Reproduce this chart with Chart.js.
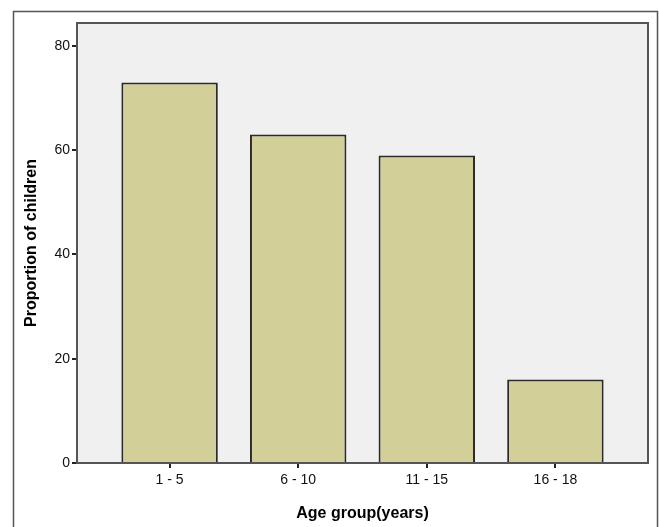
<!DOCTYPE html>
<html>
<head>
<meta charset="utf-8">
<script src="https://cdn.jsdelivr.net/npm/chart.js"></script>
<style>
  html, body { margin: 0; padding: 0; background: #fff; }
  #wrap { width: 659px; height: 527px; position: relative; }
</style>
</head>
<body>
<div id="wrap"><canvas id="chart"></canvas></div>
<script>
// Chart data
var ageGroups = ['1 - 5', '6 - 10', '11 - 15', '16 - 18'];
var proportions = [73, 63, 59, 16];
var yTicks = [0, 20, 40, 60, 80];

// Plot background, plot frame and outer frame
var framePlugin = {
    id: 'frames',
    beforeDraw: function(chart) {
        var ctx = chart.ctx;
        var a = chart.chartArea;
        ctx.save();
        ctx.fillStyle = '#f0f0f0';
        ctx.fillRect(a.left, a.top, a.right - a.left, a.bottom - a.top);
        ctx.strokeStyle = '#555';
        ctx.lineWidth = 1.5;
        ctx.strokeRect(13.5, 11.5, 644, 530);
        ctx.restore();
    },
    afterDraw: function(chart) {
        var ctx = chart.ctx;
        var a = chart.chartArea;
        ctx.save();
        ctx.strokeStyle = '#555';
        ctx.lineWidth = 2;
        ctx.strokeRect(a.left, a.top, a.right - a.left, a.bottom - a.top);
        ctx.restore();
    }
};

var points = proportions.map(function(v, i) { return { x: i, y: v }; });

new Chart(document.getElementById('chart'), {
    type: 'bar',
    data: {
        datasets: [{
            data: points,
            backgroundColor: '#d3cf98',
            borderColor: '#2a2a2a',
            borderWidth: 2,
            categoryPercentage: 0.75,
            barPercentage: 1
        }]
    },
    options: {
        responsive: true,
        maintainAspectRatio: false,
        animation: false,
        layout: { padding: { top: 23, right: 11, left: 0, bottom: 0 } },
        plugins: { legend: { display: false }, tooltip: { enabled: false } },
        scales: {
            x: {
                type: 'linear',
                offset: false,
                min: -0.72,
                max: 3.72,
                afterBuildTicks: function(scale) {
                    scale.ticks = ageGroups.map(function(_, i) { return { value: i }; });
                },
                afterFit: function(scale) { scale.height = 64; },
                grid: { offset: false, drawOnChartArea: false, drawTicks: true, tickLength: 5, color: '#222', lineWidth: 2 },
                border: { display: true, color: '#222', width: 2 },
                ticks: {
                    color: '#111',
                    font: { family: 'Liberation Sans, Arial, sans-serif', size: 14 },
                    padding: 4,
                    maxRotation: 0,
                    callback: function(v) { return ageGroups[v]; }
                },
                title: {
                    display: true,
                    text: 'Age group(years)',
                    color: '#000',
                    font: { family: 'Liberation Sans, Arial, sans-serif', size: 16, weight: 'bold' },
                    padding: { top: 10 }
                }
            },
            y: {
                min: 0,
                max: 84.4,
                afterBuildTicks: function(scale) {
                    scale.ticks = yTicks.map(function(v) { return { value: v }; });
                },
                afterFit: function(scale) { scale.width = 77; },
                grid: { drawOnChartArea: false, drawTicks: true, tickLength: 5, color: '#222', lineWidth: 2 },
                border: { display: true, color: '#222', width: 2 },
                ticks: {
                    color: '#111',
                    font: { family: 'Liberation Sans, Arial, sans-serif', size: 14 },
                    padding: 2
                },
                title: {
                    display: true,
                    text: 'Proportion of children',
                    color: '#000',
                    font: { family: 'Liberation Sans, Arial, sans-serif', size: 16, weight: 'bold' },
                    padding: { top: 22, bottom: 0 }
                }
            }
        }
    },
    plugins: [framePlugin]
});
</script>
</body>
</html>
